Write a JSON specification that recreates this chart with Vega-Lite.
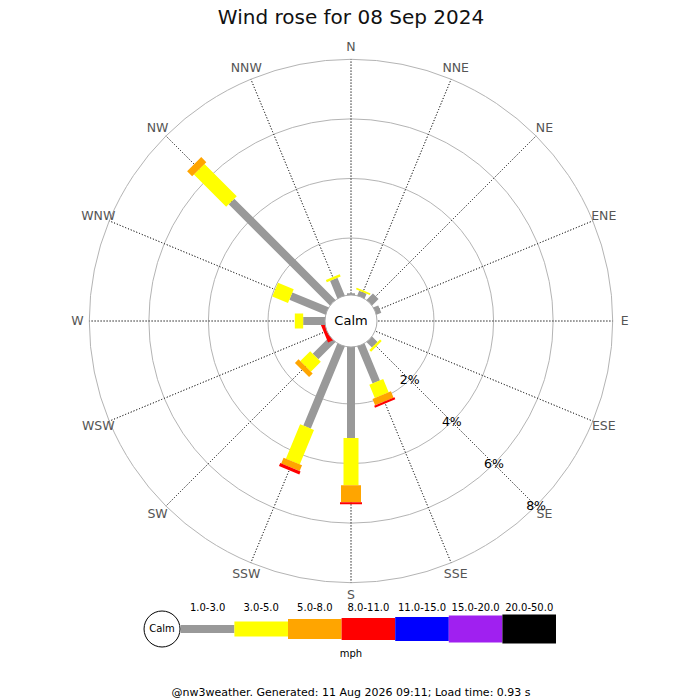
{
  "$schema": "https://vega.github.io/schema/vega-lite/v6.json",
  "description": "Wind rose for 08 Sep 2024, nw3weather",
  "padding": {"top": 8, "left": 1, "right": 0, "bottom": 0},
  "background": "white",
  "bounds": "flush",
  "title": {
    "text": "Wind rose for 08 Sep 2024",
    "fontSize": 20,
    "fontWeight": "normal",
    "color": "#111111",
    "anchor": "middle",
    "offset": 2
  },
  "spacing": 2,
  "datasets": {
    "dirs": [
      {"dir": "N", "deg": 0}, {"dir": "NNE", "deg": 22.5}, {"dir": "NE", "deg": 45}, {"dir": "ENE", "deg": 67.5},
      {"dir": "E", "deg": 90}, {"dir": "ESE", "deg": 112.5}, {"dir": "SE", "deg": 135}, {"dir": "SSE", "deg": 157.5},
      {"dir": "S", "deg": 180}, {"dir": "SSW", "deg": 202.5}, {"dir": "SW", "deg": 225}, {"dir": "WSW", "deg": 247.5},
      {"dir": "W", "deg": 270}, {"dir": "WNW", "deg": 292.5}, {"dir": "NW", "deg": 315}, {"dir": "NNW", "deg": 337.5}
    ],
    "rings": [
      {"ring": 2, "label": "2%"}, {"ring": 4, "label": "4%"}, {"ring": 6, "label": "6%"}, {"ring": 8, "label": "8%"}
    ],
    "wind": [
      {"dir": "N", "deg": 0, "speed": "1.0-3.0", "pct": 0.15},
      {"dir": "NNE", "deg": 22.5, "speed": "1.0-3.0", "pct": 0.26},
      {"dir": "NNE", "deg": 22.5, "speed": "3.0-5.0", "pct": 0.06},
      {"dir": "NE", "deg": 45, "speed": "1.0-3.0", "pct": 0.39},
      {"dir": "ENE", "deg": 67.5, "speed": "1.0-3.0", "pct": 0.26},
      {"dir": "SE", "deg": 135, "speed": "1.0-3.0", "pct": 0.34},
      {"dir": "SE", "deg": 135, "speed": "3.0-5.0", "pct": 0.08},
      {"dir": "SSE", "deg": 157.5, "speed": "1.0-3.0", "pct": 1.43},
      {"dir": "SSE", "deg": 157.5, "speed": "3.0-5.0", "pct": 0.48},
      {"dir": "SSE", "deg": 157.5, "speed": "5.0-8.0", "pct": 0.23},
      {"dir": "SSE", "deg": 157.5, "speed": "8.0-11.0", "pct": 0.07},
      {"dir": "S", "deg": 180, "speed": "1.0-3.0", "pct": 3.14},
      {"dir": "S", "deg": 180, "speed": "3.0-5.0", "pct": 1.59},
      {"dir": "S", "deg": 180, "speed": "5.0-8.0", "pct": 0.57},
      {"dir": "S", "deg": 180, "speed": "8.0-11.0", "pct": 0.07},
      {"dir": "SSW", "deg": 202.5, "speed": "1.0-3.0", "pct": 3.07},
      {"dir": "SSW", "deg": 202.5, "speed": "3.0-5.0", "pct": 1.25},
      {"dir": "SSW", "deg": 202.5, "speed": "5.0-8.0", "pct": 0.21},
      {"dir": "SSW", "deg": 202.5, "speed": "8.0-11.0", "pct": 0.11},
      {"dir": "SW", "deg": 225, "speed": "1.0-3.0", "pct": 0.9},
      {"dir": "SW", "deg": 225, "speed": "3.0-5.0", "pct": 0.47},
      {"dir": "SW", "deg": 225, "speed": "5.0-8.0", "pct": 0.17},
      {"dir": "WSW", "deg": 247.5, "speed": "8.0-11.0", "pct": 0.2},
      {"dir": "W", "deg": 270, "speed": "1.0-3.0", "pct": 0.82},
      {"dir": "W", "deg": 270, "speed": "3.0-5.0", "pct": 0.28},
      {"dir": "WNW", "deg": 292.5, "speed": "1.0-3.0", "pct": 1.4},
      {"dir": "WNW", "deg": 292.5, "speed": "3.0-5.0", "pct": 0.57},
      {"dir": "NW", "deg": 315, "speed": "1.0-3.0", "pct": 4.89},
      {"dir": "NW", "deg": 315, "speed": "3.0-5.0", "pct": 1.53},
      {"dir": "NW", "deg": 315, "speed": "5.0-8.0", "pct": 0.24},
      {"dir": "NNW", "deg": 337.5, "speed": "1.0-3.0", "pct": 0.73},
      {"dir": "NNW", "deg": 337.5, "speed": "3.0-5.0", "pct": 0.08}
    ],
    "bins": [
      {"speed": "1.0-3.0"}, {"speed": "3.0-5.0"}, {"speed": "5.0-8.0"}, {"speed": "8.0-11.0"},
      {"speed": "11.0-15.0"}, {"speed": "15.0-20.0"}, {"speed": "20.0-50.0"}
    ]
  },
  "vconcat": [
    {
      "width": 700,
      "height": 582,
      "layer": [
        {
          "data": {"name": "rings"},
          "mark": {"type": "arc", "filled": false, "stroke": "#b4b4b4", "strokeWidth": 1},
          "encoding": {
            "theta": {"datum": 0, "type": "quantitative", "scale": {"domain": [0, 360], "range": [0, 6.283185307179586]}},
            "theta2": {"datum": 360},
            "radius": {"field": "ring", "type": "quantitative", "stack": null, "scale": {"type": "linear", "domain": [0, 8], "range": [23.4, 261.7], "zero": false}}
          }
        },
        {
          "data": {"name": "dirs"},
          "mark": {"type": "arc", "filled": false, "stroke": "#444444", "strokeWidth": 1, "strokeDash": [1, 2], "strokeDashOffset": 0.7, "strokeJoin": "bevel"},
          "encoding": {
            "theta": {"field": "deg", "type": "quantitative", "stack": null, "scale": {"domain": [0, 360], "range": [0, 6.283185307179586]}},
            "theta2": {"field": "deg"},
            "radius": {"datum": 8, "type": "quantitative", "scale": {"type": "linear", "domain": [0, 8], "range": [23.4, 261.7], "zero": false}},
            "radius2": {"datum": 0}
          }
        },
        {
          "data": {"name": "wind"},
          "transform": [
            {"stack": "pct", "groupby": ["dir"], "sort": [{"field": "speed", "order": "ascending"}], "as": ["r0", "r1"]}
          ],
          "mark": {"type": "arc", "filled": false, "strokeJoin": "bevel"},
          "encoding": {
            "theta": {"field": "deg", "type": "quantitative", "stack": null, "scale": {"domain": [0, 360], "range": [0, 6.283185307179586]}},
            "theta2": {"field": "deg"},
            "radius": {"field": "r1", "type": "quantitative", "stack": null, "scale": {"type": "linear", "domain": [0, 8], "range": [23.4, 261.7], "zero": false}},
            "radius2": {"field": "r0"},
            "stroke": {
              "field": "speed", "type": "nominal", "legend": null,
              "scale": {
                "domain": ["1.0-3.0", "3.0-5.0", "5.0-8.0", "8.0-11.0", "11.0-15.0", "15.0-20.0", "20.0-50.0"],
                "range": ["#999999", "#ffff00", "#ffa500", "#ff0000", "#0000ff", "#a020f0", "#000000"]
              }
            },
            "strokeWidth": {
              "field": "speed", "type": "nominal", "legend": null,
              "scale": {
                "type": "ordinal",
                "domain": ["1.0-3.0", "3.0-5.0", "5.0-8.0", "8.0-11.0", "11.0-15.0", "15.0-20.0", "20.0-50.0"],
                "range": [8, 15, 20, 22, 24, 27, 29]
              }
            },
            "tooltip": [
              {"field": "dir", "type": "nominal", "title": "Direction"},
              {"field": "speed", "type": "nominal", "title": "Speed (mph)"},
              {"field": "pct", "type": "quantitative", "title": "%"}
            ]
          }
        },
        {
          "data": {"values": [{"calm": "Calm"}]},
          "mark": {"type": "arc", "radius": 26, "fill": "white", "stroke": "#aaaaaa", "strokeWidth": 1},
          "encoding": {
            "theta": {"datum": 0, "type": "quantitative", "scale": {"domain": [0, 360], "range": [0, 6.283185307179586]}},
            "theta2": {"datum": 360}
          }
        },
        {
          "data": {"values": [{"calm": "Calm"}]},
          "mark": {"type": "text", "fontSize": 13, "color": "#000000", "baseline": "middle", "align": "center"},
          "encoding": {"text": {"field": "calm"}}
        },
        {
          "data": {"name": "dirs"},
          "mark": {"type": "text", "fontSize": 12.5, "color": "#555555", "baseline": "middle", "align": "center"},
          "encoding": {
            "theta": {"field": "deg", "type": "quantitative", "stack": null, "scale": {"domain": [0, 360], "range": [0, 6.283185307179586]}},
            "radius": {"datum": 8.4, "type": "quantitative", "scale": {"type": "linear", "domain": [0, 8], "range": [23.4, 261.7], "zero": false}},
            "text": {"field": "dir"}
          }
        },
        {
          "data": {"name": "rings"},
          "mark": {"type": "text", "fontSize": 12.5, "color": "#000000", "baseline": "middle", "align": "center"},
          "encoding": {
            "theta": {"datum": 135, "type": "quantitative", "scale": {"domain": [0, 360], "range": [0, 6.283185307179586]}},
            "radius": {"field": "ring", "type": "quantitative", "stack": null, "scale": {"type": "linear", "domain": [0, 8], "range": [23.4, 261.7], "zero": false}},
            "text": {"field": "label"}
          }
        }
      ]
    },
    {
      "width": 700,
      "height": 30,
      "title": {
        "text": "@nw3weather. Generated: 11 Aug 2026 09:11; Load time: 0.93 s",
        "orient": "bottom",
        "anchor": "middle",
        "fontSize": 11,
        "fontWeight": "normal",
        "color": "#000000",
        "offset": 28
      },
      "layer": [
        {
          "data": {"name": "bins"},
          "mark": {"type": "rule", "strokeCap": "butt"},
          "encoding": {
            "x": {
              "field": "speed", "type": "nominal", "bandPosition": 0, "axis": null,
              "scale": {
                "domain": ["Calm", "1.0-3.0", "3.0-5.0", "5.0-8.0", "8.0-11.0", "11.0-15.0", "15.0-20.0", "20.0-50.0"],
                "range": [126.2, 555], "paddingInner": 0, "paddingOuter": 0
              }
            },
            "x2": {"field": "speed", "bandPosition": 1},
            "y": {"datum": 0, "type": "quantitative", "axis": null, "scale": {"domain": [-1, 1]}},
            "stroke": {
              "field": "speed", "type": "nominal", "legend": null,
              "scale": {
                "domain": ["1.0-3.0", "3.0-5.0", "5.0-8.0", "8.0-11.0", "11.0-15.0", "15.0-20.0", "20.0-50.0"],
                "range": ["#999999", "#ffff00", "#ffa500", "#ff0000", "#0000ff", "#a020f0", "#000000"]
              }
            },
            "strokeWidth": {
              "field": "speed", "type": "nominal", "legend": null,
              "scale": {
                "type": "ordinal",
                "domain": ["1.0-3.0", "3.0-5.0", "5.0-8.0", "8.0-11.0", "11.0-15.0", "15.0-20.0", "20.0-50.0"],
                "range": [8, 15, 20, 22, 24, 27, 29]
              }
            }
          }
        },
        {
          "data": {"name": "bins"},
          "mark": {"type": "text", "fontSize": 10, "color": "#000000", "dy": -21, "baseline": "middle"},
          "encoding": {
            "x": {"field": "speed", "type": "nominal", "axis": null},
            "y": {"datum": 0, "type": "quantitative", "axis": null},
            "text": {"field": "speed"}
          }
        },
        {
          "data": {"values": [{"calm": "Calm"}]},
          "mark": {"type": "point", "shape": "circle", "size": 1296, "filled": true, "fill": "white", "stroke": "#000000", "strokeWidth": 1, "opacity": 1},
          "encoding": {
            "x": {"field": "calm", "type": "nominal", "bandPosition": 0.65, "axis": null},
            "y": {"datum": 0, "type": "quantitative", "axis": null}
          }
        },
        {
          "data": {"values": [{"calm": "Calm"}]},
          "mark": {"type": "text", "fontSize": 10, "color": "#000000", "baseline": "middle"},
          "encoding": {
            "x": {"field": "calm", "type": "nominal", "bandPosition": 0.65, "axis": null},
            "y": {"datum": 0, "type": "quantitative", "axis": null},
            "text": {"field": "calm"}
          }
        },
        {
          "data": {"values": [{"unit": "mph"}]},
          "mark": {"type": "text", "fontSize": 10, "color": "#000000", "dy": 25, "baseline": "middle"},
          "encoding": {
            "y": {"datum": 0, "type": "quantitative", "axis": null},
            "text": {"field": "unit"}
          }
        }
      ]
    }
  ],
  "config": {
    "view": {"stroke": null},
    "font": "DejaVu Sans"
  }
}
